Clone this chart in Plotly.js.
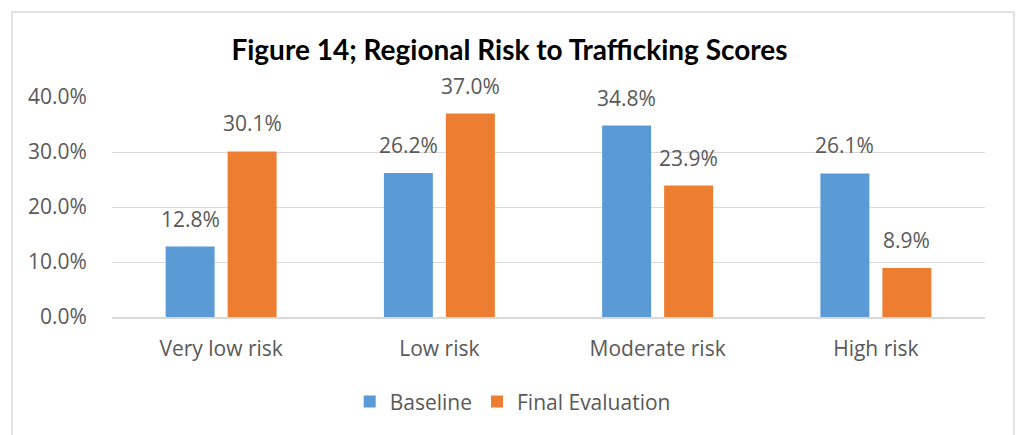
<!DOCTYPE html>
<html>
<head>
<meta charset="utf-8">
<script src="https://cdn.plot.ly/plotly-3.0.1.min.js"></script>
<style>
  html, body { margin: 0; padding: 0; background: #ffffff; }
  #chart { width: 1019px; height: 435px; }
</style>
</head>
<body>
<div id="chart"></div>
<script>
// Share of regions in each risk band (percent)
const categories = ['Very low risk', 'Low risk', 'Moderate risk', 'High risk'];
const baseline = [12.8, 26.2, 34.8, 26.1];
const finalEvaluation = [30.1, 37.0, 23.9, 8.9];
const yTicks = [0, 10, 20, 30, 40];

const seriesColors = { baseline: '#5B9BD5', finalEvaluation: '#ED7D31' };
const textColor = '#595959';
const labelFont = { family: '"Open Sans", Lato, sans-serif', size: 21, color: textColor };

function barTrace(name, values, color) {
  return {
    type: 'bar',
    name: name,
    x: categories,
    y: values,
    marker: { color: color },
    hoverinfo: 'x+y+name'
  };
}

const data = [
  barTrace('Baseline', baseline, seriesColors.baseline),
  barTrace('Final Evaluation', finalEvaluation, seriesColors.finalEvaluation)
];

// Value labels sit a little above each bar, over that bar's centre
function valueLabels(values, side) {
  return values.map((v, i) => ({
    x: categories[i],
    y: v,
    xref: 'x',
    yref: 'y',
    text: v.toFixed(1) + '%',
    showarrow: false,
    xanchor: 'center',
    yanchor: 'bottom',
    xshift: side * 31,
    yshift: 12,
    font: labelFont
  }));
}

const layout = {
  width: 1019,
  height: 435,
  margin: { l: 112, r: 34, t: 97, b: 118 },
  paper_bgcolor: '#ffffff',
  plot_bgcolor: '#ffffff',
  barmode: 'group',
  bargap: 0.432,
  bargroupgap: 0.21,
  title: {
    text: '<b>Figure 14; Regional Risk to Trafficking Scores</b>',
    font: { family: 'Lato, "Open Sans", sans-serif', size: 28, color: '#000000' },
    x: 0.5,
    xanchor: 'center',
    xref: 'container',
    y: 0.885,
    yanchor: 'middle',
    yref: 'container'
  },
  xaxis: {
    showgrid: false,
    zeroline: false,
    showline: true,
    linecolor: '#d9d9d9',
    linewidth: 1.5,
    ticks: 'outside',
    ticklen: 12,
    tickcolor: 'rgba(0,0,0,0)',
    tickfont: labelFont,
    fixedrange: true
  },
  yaxis: {
    range: [0, 40],
    tickvals: yTicks,
    ticktext: yTicks.map(v => v.toFixed(1) + '%'),
    showgrid: true,
    gridcolor: '#d9d9d9',
    gridwidth: 1,
    zeroline: false,
    showline: false,
    ticks: 'outside',
    ticklen: 20,
    tickcolor: 'rgba(0,0,0,0)',
    tickfont: labelFont,
    fixedrange: true
  },
  showlegend: true,
  legend: {
    orientation: 'h',
    x: 0.459,
    xanchor: 'center',
    y: -0.386,
    yanchor: 'middle',
    font: labelFont,
    itemwidth: 30
  },
  annotations: [
    ...valueLabels(baseline, -1),
    ...valueLabels(finalEvaluation, 1)
  ],
  shapes: [{
    type: 'rect',
    xref: 'paper',
    yref: 'paper',
    x0: -0.1145,
    x1: 1.0332,
    y0: -0.6,
    y1: 1.386,
    line: { color: '#d9d9d9', width: 1.5 },
    fillcolor: 'rgba(0,0,0,0)',
    layer: 'below'
  }]
};

Plotly.newPlot('chart', data, layout, { displayModeBar: false, staticPlot: true });
</script>
</body>
</html>
